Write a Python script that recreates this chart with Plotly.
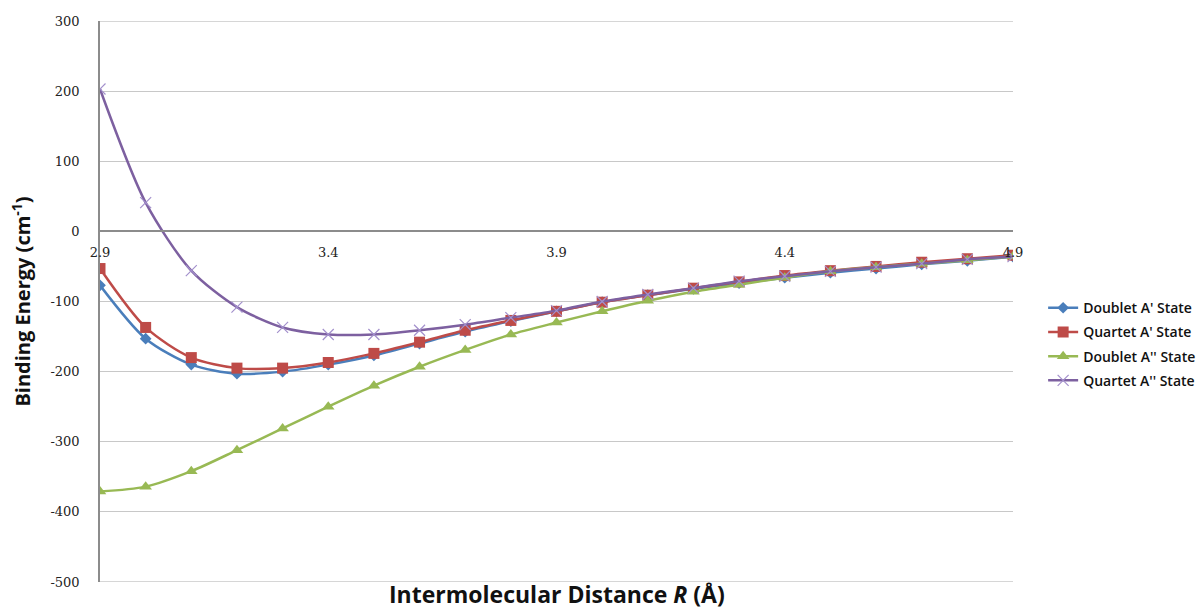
import plotly.graph_objects as go

r_values = [2.9, 3.0, 3.1, 3.2, 3.3, 3.4, 3.5, 3.6, 3.7, 3.8, 3.9,
            4.0, 4.1, 4.2, 4.3, 4.4, 4.5, 4.6, 4.7, 4.8, 4.9]

doublet_a1 = [-77, -153, -190, -203, -200, -190, -177, -160, -143, -128, -114,
              -101, -91, -82, -74, -66, -59, -53, -47, -42, -36]
quartet_a1 = [-53, -137, -180, -195, -195, -187, -174, -158, -141, -127, -114,
              -101, -91, -81, -72, -63, -56, -50, -44, -39, -34]
doublet_a2 = [-371, -364, -342, -312, -281, -250, -220, -193, -169, -147, -130,
              -114, -99, -86, -76, -66, -57, -51, -46, -41, -36]
quartet_a2 = [203, 41, -56, -108, -137, -147, -147, -141, -133, -123, -113,
              -100, -90, -81, -71, -64, -57, -51, -46, -40, -36]

series_names = ["Doublet A' State", "Quartet A' State", "Doublet A'' State", "Quartet A'' State"]
x_tick_vals = [2.9, 3.4, 3.9, 4.4, 4.9]
x_tick_text = ["2.9", "3.4", "3.9", "4.4", "4.9"]
y_tick_vals = [300, 200, 100, 0, -100, -200, -300, -400, -500]
y_tick_text = ["300", "200", "100", "0", "-100", "-200", "-300", "-400", "-500"]

fig = go.Figure()

styles = [
    (doublet_a1, "#4A7EBB", dict(symbol="diamond", size=9, color="#4A7EBB")),
    (quartet_a1, "#BE4B48", dict(symbol="square", size=11, color="#BE4B48")),
    (doublet_a2, "#98B954", dict(symbol="triangle-up", size=11, color="#98B954")),
    (quartet_a2, "#7D60A0", dict(symbol="x-thin", size=11, color="#7D60A0",
                                 line=dict(color="#A390CC", width=1.2))),
]
for i, (name, (vals, col, mk)) in enumerate(zip(series_names, styles)):
    fig.add_trace(go.Scatter(
        x=r_values, y=vals, name=name, mode="lines+markers", legendgroup=f"g{i}",
        line=dict(color=col, width=2.5, shape="spline", smoothing=0.8),
        marker=mk,
    ))

tick_font = dict(family="DejaVu Serif", size=13, color="#222222")

fig.update_layout(
    width=1199, height=610,
    paper_bgcolor="white", plot_bgcolor="white",
    margin=dict(l=100, r=186, t=21, b=28, autoexpand=False),
    showlegend=True,
    legend=dict(x=1.033, y=0.424, xanchor="left", yanchor="middle",
                font=dict(family="Open Sans", size=14, color="#111111", weight=600),
                traceorder="grouped", tracegroupgap=3, itemwidth=30,
                bgcolor="rgba(0,0,0,0)"),
    xaxis=dict(range=[2.9, 4.9], tickvals=x_tick_vals, ticktext=x_tick_text,
               showgrid=False, zeroline=False, anchor="free", position=0.625,
               showline=True, linecolor="#8C8C8C", linewidth=1.5,
               ticks="", tickfont=tick_font, ticklabelstandoff=9),
    yaxis=dict(range=[-500, 300], tickvals=y_tick_vals, ticktext=y_tick_text,
               showgrid=True, gridcolor="#C8C8C8", gridwidth=1.3,
               zeroline=False, showline=True, linecolor="#8C8C8C", linewidth=1.5,
               ticks="", tickfont=tick_font, ticklabelstandoff=16,
               title=dict(text="Binding Energy (cm<sup>-1</sup>)",
                          font=dict(family="Open Sans", size=20, color="#111111", weight="bold"),
                          standoff=14)),
)

for yv in (300, -500):
    fig.add_shape(type="line", xref="paper", yref="y", x0=0, x1=1, y0=yv, y1=yv,
                  line=dict(color="#C8C8C8", width=1.3), layer="below")

fig.add_annotation(text="Intermolecular Distance <i>R</i> (Å)", xref="paper", yref="paper",
                   x=0.5, y=-0.0215, yanchor="middle", showarrow=False, borderpad=0,
                   font=dict(family="Open Sans", size=23, color="#111111", weight="bold"))

fig.write_html("out.html", config={"displayModeBar": False},
               post_script="document.body.style.margin='0';")
